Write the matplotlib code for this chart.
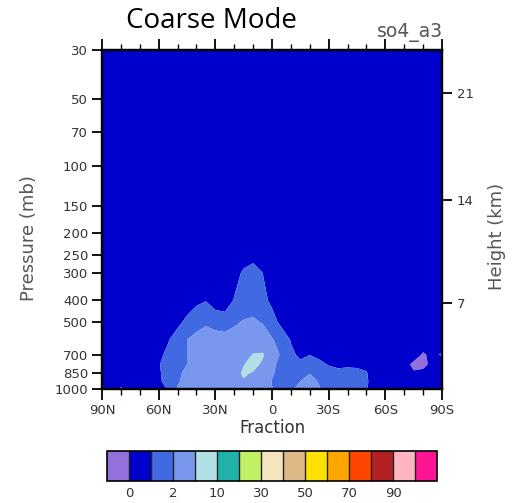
import numpy as np
import matplotlib
matplotlib.use("Agg")
import matplotlib.pyplot as plt
import matplotlib as mpl
from matplotlib.colors import ListedColormap, BoundaryNorm

# Latitude grid, 90N -> 90S every 5 degrees
lat = np.arange(90, -91, -5)
nlat = len(lat)

# Pressure levels (mb)
plev = np.array([1000, 925, 850, 775, 700, 600, 500, 400, 300, 250, 150, 30])

# so4_a3 fraction (%) on each pressure level, ordered 90N ... 90S
f1000 = [0.5, 0.4, -0.2, 0.4, 0.5, 0.6, 0.7, 1.05, 2.1, 2.8, 3.2, 3.4, 3.5, 3.6, 3.8, 4.0, 3.5, 2.8, 2.05,
         1.6, 1.8, 2.4, 2.6, 2.1, 1.6, 1.5, 1.4, 1.3, 1.05, 0.6, 0.5, 0.5, 0.5, 0.5, 0.5, 0.5, 0.5]
f925 = [0.5, 0.5, 0.5, 0.5, 0.55, 0.6, 0.85, 1.3, 1.8, 2.6, 3.2, 3.5, 3.7, 3.8, 4.2, 4.8, 4.2, 3.0, 1.95,
        1.6, 1.7, 2.0, 2.4, 1.9, 1.5, 1.4, 1.35, 1.25, 1.1, 0.6, 0.5, 0.5, 0.5, 0.2, 0.4, 0.5, 0.5]
f850 = [0.5, 0.5, 0.5, 0.5, 0.55, 0.65, 0.9, 1.3, 1.75, 2.3, 3.0, 3.4, 3.6, 3.8, 4.3, 5.3, 4.8, 3.5, 2.1,
        1.7, 1.6, 1.8, 1.98, 1.7, 1.3, 1.2, 1.2, 1.15, 1.05, 0.6, 0.5, 0.5, 0.3, 0.1, 0.3, 0.4, 0.5]
f775 = [0.5, 0.5, 0.5, 0.5, 0.5, 0.65, 0.95, 1.3, 1.7, 2.0, 2.6, 3.2, 3.5, 3.7, 4.2, 4.9, 5.8, 4.6, 2.2,
        1.7, 1.3, 1.15, 1.4, 1.2, 0.95, 0.85, 0.9, 0.9, 0.85, 0.6, 0.5, 0.5, 0.3, -0.2, -0.3, 0.3, 0.4]
f700 = [0.5, 0.5, 0.5, 0.5, 0.5, 0.6, 0.85, 1.15, 1.6, 2.0, 2.5, 3.0, 3.3, 3.5, 3.8, 4.2, 5.1, 5.3, 3.5,
        1.6, 1.15, 0.85, 0.98, 0.8, 0.7, 0.6, 0.55, 0.5, 0.5, 0.5, 0.5, 0.5, 0.5, 0.4, -0.1, 0.2, -0.1]
f600 = [0.5, 0.5, 0.5, 0.5, 0.5, 0.5, 0.7, 0.95, 1.3, 2.0, 2.4, 2.7, 2.6, 2.5, 2.6, 2.9, 3.3, 3.0, 2.1,
        1.5, 0.95, 0.7, 0.6, 0.55, 0.5, 0.5, 0.5, 0.5, 0.5, 0.5, 0.5, 0.5, 0.5, 0.5, 0.5, 0.5, 0.5]
f500 = [0.5, 0.5, 0.5, 0.5, 0.5, 0.5, 0.5, 0.6, 0.85, 1.15, 1.5, 1.8, 1.5, 1.4, 1.8, 2.1, 2.2, 1.9, 1.3,
        0.8, 0.6, 0.5, 0.5, 0.5, 0.5, 0.5, 0.5, 0.5, 0.5, 0.5, 0.5, 0.5, 0.5, 0.5, 0.5, 0.5, 0.5]
f400 = [0.5, 0.5, 0.5, 0.5, 0.5, 0.5, 0.5, 0.5, 0.55, 0.7, 0.85, 0.97, 0.65, 0.6, 1.05, 1.3, 1.4, 1.2, 0.85,
        0.6, 0.5, 0.5, 0.5, 0.5, 0.5, 0.5, 0.5, 0.5, 0.5, 0.5, 0.5, 0.5, 0.5, 0.5, 0.5, 0.5, 0.5]
f300 = [0.5, 0.5, 0.5, 0.5, 0.5, 0.5, 0.5, 0.5, 0.5, 0.5, 0.5, 0.5, 0.5, 0.5, 0.75, 1.1, 1.25, 1.0, 0.7,
        0.5, 0.5, 0.5, 0.5, 0.5, 0.5, 0.5, 0.5, 0.5, 0.5, 0.5, 0.5, 0.5, 0.5, 0.5, 0.5, 0.5, 0.5]
f250 = [0.5, 0.5, 0.5, 0.5, 0.5, 0.5, 0.5, 0.5, 0.5, 0.5, 0.5, 0.5, 0.5, 0.5, 0.6, 0.7, 0.8, 0.7, 0.6,
        0.5, 0.5, 0.5, 0.5, 0.5, 0.5, 0.5, 0.5, 0.5, 0.5, 0.5, 0.5, 0.5, 0.5, 0.5, 0.5, 0.5, 0.5]
f150 = [0.5] * nlat
f30 = [0.5] * nlat

frac = np.array([f1000, f925, f850, f775, f700, f600, f500, f400, f300, f250, f150, f30])

# Contour levels and colours (first/last colour = below/above the range)
levels = [0, 1, 2, 5, 10, 20, 30, 40, 50, 60, 70, 80, 90, 95]
colors = ["#9370DB", "#0000CD", "#4169E1", "#7898EE", "#B0E0E6", "#20B2AA", "#C2F064",
          "#F5E4BE", "#DEB887", "#FFE000", "#FFA500", "#FF4500", "#B22222", "#FFB6C1", "#FF1493"]
cbar_labels = [0, 2, 10, 30, 50, 70, 90]

lat_ticks = [90, 60, 30, 0, -30, -60, -90]
lat_ticklabels = ["90N", "60N", "30N", "0", "30S", "60S", "90S"]
p_ticks = [1000, 850, 700, 500, 400, 300, 250, 200, 150, 100, 70, 50, 30]
z_ticks = [7, 14, 21]

txt = "#333333"
lab = "#555555"
fig = plt.figure(figsize=(5.14, 5.03), dpi=100)
ax = fig.add_axes([102 / 514, 1 - 389 / 503, 340 / 514, 339 / 503])

ax.contourf(lat, plev, frac, levels=levels, colors=colors, extend="both", antialiased=True)

ax.set_yscale("log")
ax.set_ylim(1000, 30)
ax.set_xlim(90, -90)
ax.set_yticks(p_ticks)
ax.set_yticklabels([str(p) for p in p_ticks])
ax.yaxis.set_minor_locator(mpl.ticker.NullLocator())
ax.set_xticks(lat_ticks)
ax.set_xticklabels(lat_ticklabels)
ax.set_xticks(np.arange(90, -91, -10), minor=True)
ax.tick_params(axis="both", which="major", direction="out", length=7, width=1.3,
               labelsize=9.5, colors="black", labelcolor=txt, pad=3)
ax.tick_params(axis="x", which="major", top=True, length=8)
ax.tick_params(axis="x", which="minor", direction="out", top=True, length=4, width=1.0)
for s in ax.spines.values():
    s.set_linewidth(1.6)

ax.set_xlabel("Fraction", fontsize=12, color=txt, labelpad=1)
ax.set_ylabel("Pressure (mb)", fontsize=13, color=lab)
ax.yaxis.set_label_coords((38 - 102) / 340, (389 - 238) / 339)


# Height axis from the U.S. standard atmosphere
def z_to_p(z):
    z = np.asarray(z, dtype=float)
    p_trop = 1013.25 * (1 - 2.25577e-5 * np.minimum(z, 11) * 1000) ** 5.25588
    p_strat = 226.32 * np.exp(-0.157688 * (z - 11))
    return np.where(z < 11, p_trop, p_strat)


ax2 = ax.twinx()
ax2.set_yscale("log")
ax2.set_ylim(1000, 30)
ax2.set_yticks(z_to_p(z_ticks))
ax2.set_yticklabels([str(z) for z in z_ticks])
ax2.yaxis.set_minor_locator(mpl.ticker.NullLocator())
ax2.tick_params(axis="y", direction="out", length=7, width=1.3, labelsize=9.5, labelcolor=txt)
ax2.set_ylabel("Height (km)", fontsize=13, color=lab)
ax2.yaxis.set_label_coords((488 - 102) / 340, (389 - 236) / 339)
for s in ax2.spines.values():
    s.set_linewidth(1.6)

fig.text(211 / 514, 1 - 21 / 503, "Coarse Mode", fontsize=20, family="Open Sans",
         ha="center", va="center", color="black")
fig.text(443 / 514, 1 - 32 / 503, "so4_a3", fontsize=13.5, ha="right", va="center", color=lab)

# Colour bar with equal boxes
cax = fig.add_axes([107 / 514, 1 - 481 / 503, 330 / 514, 30 / 503])
bounds = [-5] + levels + [100]
cb = mpl.colorbar.ColorbarBase(cax, cmap=ListedColormap(colors), norm=BoundaryNorm(bounds, len(colors)),
                               boundaries=bounds, spacing="uniform", orientation="horizontal",
                               ticks=cbar_labels, drawedges=True)
cb.outline.set_linewidth(1.2)
cb.dividers.set_linewidth(1.0)
cb.dividers.set_color("#222222")
cax.minorticks_off()
cax.tick_params(which="both", length=0, labelsize=9.5, labelcolor=txt, pad=4)

fig.savefig("out.png", dpi=100)
